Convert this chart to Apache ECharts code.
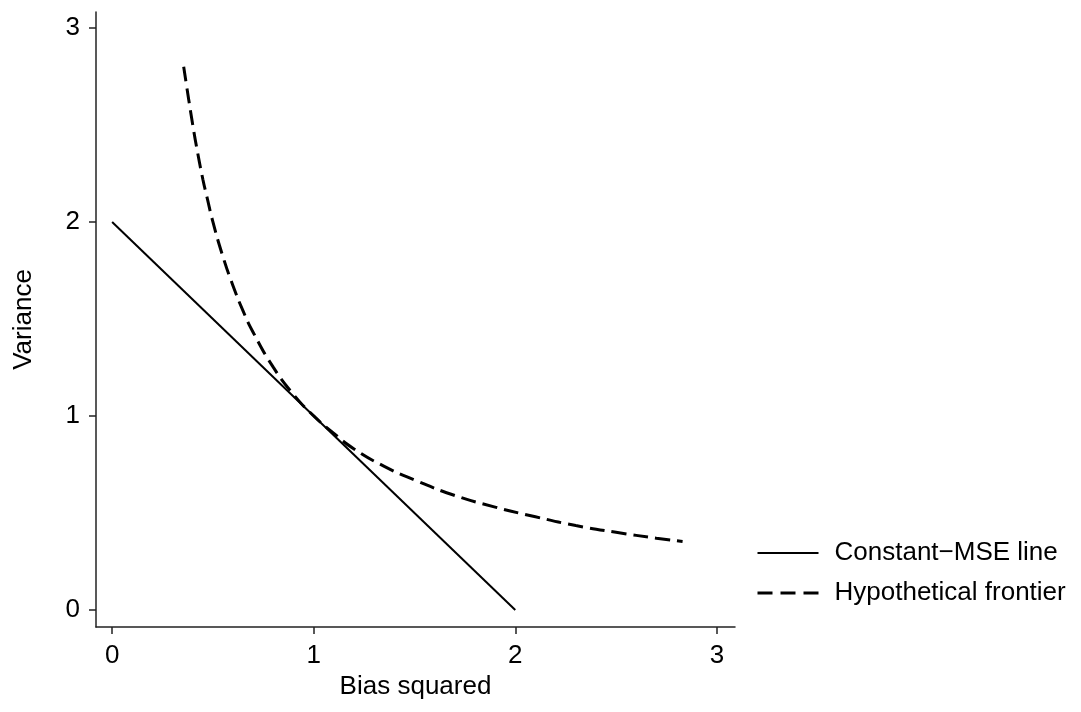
<!DOCTYPE html>
<html>
<head>
<meta charset="utf-8">
<script src="https://cdn.jsdelivr.net/npm/echarts@6/dist/echarts.min.js"></script>
<style>html,body{margin:0;padding:0;background:#fff;}#c{width:1081px;height:712px;}</style>
</head>
<body>
<div id="c"></div>
<script>
const xTicks = [0, 1, 2, 3];
const yTicks = [0, 1, 2, 3];
const seriesNames = ['Constant\u2212MSE line', 'Hypothetical frontier'];
const mseLine = [[0, 2], [2, 0]];
const frontier = [
  [0.355, 2.80], [0.38, 2.63], [0.40, 2.50], [0.42, 2.38], [0.45, 2.22], [0.47, 2.13],
  [0.50, 2.00], [0.55, 1.82], [0.60, 1.67], [0.65, 1.54], [0.70, 1.43], [0.80, 1.25],
  [0.90, 1.11], [1.00, 1.00], [1.10, 0.91], [1.20, 0.83], [1.35, 0.74], [1.50, 0.67],
  [1.70, 0.59], [1.90, 0.53], [2.10, 0.48], [2.30, 0.435], [2.50, 0.40], [2.70, 0.37],
  [2.83, 0.353]
];
const font = '"Liberation Sans", Arial, sans-serif';
const chart = echarts.init(document.getElementById('c'));
chart.setOption({
  animation: false,
  backgroundColor: '#fff',
  grid: { left: 96, right: 346, top: 12, bottom: 85 },
  legend: {
    orient: 'vertical', left: 751, top: 535, itemGap: 14,
    itemWidth: 61, itemHeight: 26,
    itemStyle: { opacity: 0 },
    textStyle: { fontFamily: font, fontSize: 26, color: '#000', padding: [0, 0, 0, 11] },
    data: [
      { name: seriesNames[0], lineStyle: { width: 2, color: '#000' } },
      { name: seriesNames[1], lineStyle: { width: 3, color: '#000', type: [15, 8], cap: 'butt' } }
    ]
  },
  xAxis: {
    type: 'value', min: -0.08, max: 3.09,
    name: 'Bias squared', nameLocation: 'middle', nameGap: 47,
    nameTextStyle: { fontFamily: font, fontSize: 26, color: '#000' },
    axisLine: { onZero: false, lineStyle: { color: '#222', width: 1.5 } },
    axisTick: { show: true, length: 7, inside: false, customValues: xTicks, lineStyle: { color: '#222', width: 1.5 } },
    axisLabel: { customValues: xTicks, margin: 16, fontFamily: font, fontSize: 26, color: '#000' },
    splitLine: { show: false }
  },
  yAxis: {
    type: 'value', min: -0.088, max: 3.082,
    name: 'Variance', nameLocation: 'middle', nameGap: 59,
    nameTextStyle: { fontFamily: font, fontSize: 26, color: '#000' },
    axisLine: { show: true, onZero: false, lineStyle: { color: '#222', width: 1.5 } },
    axisTick: { show: true, length: 7, inside: false, customValues: yTicks, lineStyle: { color: '#222', width: 1.5 } },
    axisLabel: { customValues: yTicks, margin: 16, fontFamily: font, fontSize: 26, color: '#000' },
    splitLine: { show: false }
  },
  series: [
    {
      name: seriesNames[0], type: 'line', data: mseLine, symbol: 'none',
      lineStyle: { color: '#000', width: 2 }, itemStyle: { color: '#000' }
    },
    {
      name: seriesNames[1], type: 'line', data: frontier, symbol: 'none', smooth: true,
      lineStyle: { color: '#000', width: 3, type: [15, 7], cap: 'butt' }, itemStyle: { color: '#000' }
    }
  ]
});
</script>
</body>
</html>
